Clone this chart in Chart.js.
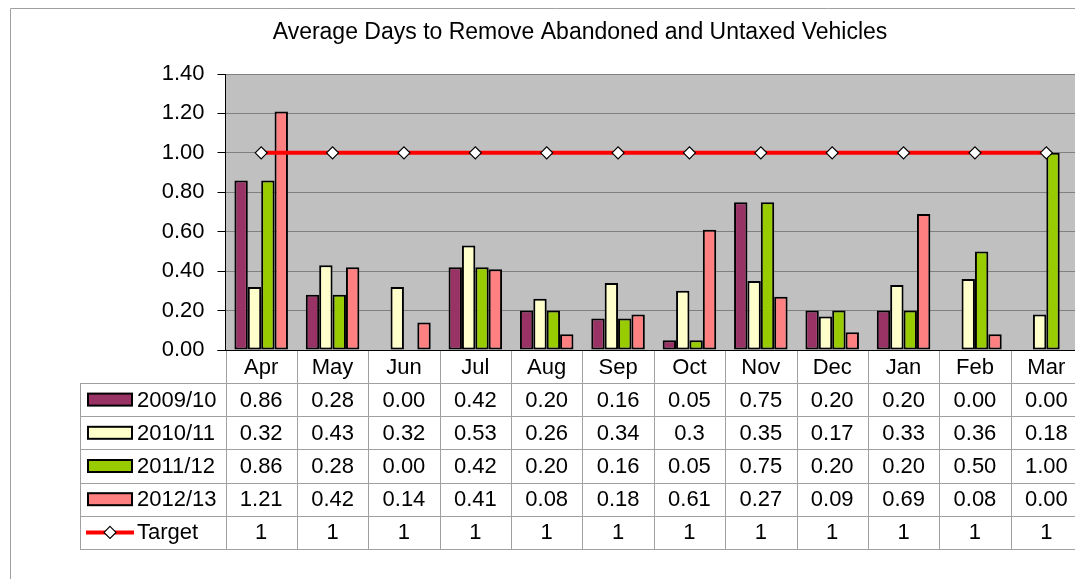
<!DOCTYPE html>
<html>
<head>
<meta charset="utf-8">
<script src="https://cdn.jsdelivr.net/npm/chart.js@4.4.1/dist/chart.umd.min.js"></script>
<style>
  body { margin: 0; overflow: hidden; background: #fff; }
  #wrap { position: relative; width: 1100px; height: 579px; }
</style>
</head>
<body>
<div id="wrap"><canvas id="grafica"></canvas></div>
<script>
const months = ['Apr', 'May', 'Jun', 'Jul', 'Aug', 'Sep', 'Oct', 'Nov', 'Dec', 'Jan', 'Feb', 'Mar'];
// valores tal como salen en la tabla de datos
const fy0910 = ['0.86', '0.28', '0.00', '0.42', '0.20', '0.16', '0.05', '0.75', '0.20', '0.20', '0.00', '0.00'];
const fy1011 = ['0.32', '0.43', '0.32', '0.53', '0.26', '0.34', '0.3', '0.35', '0.17', '0.33', '0.36', '0.18'];
const fy1112 = ['0.86', '0.28', '0.00', '0.42', '0.20', '0.16', '0.05', '0.75', '0.20', '0.20', '0.50', '1.00'];
const fy1213 = ['1.21', '0.42', '0.14', '0.41', '0.08', '0.18', '0.61', '0.27', '0.09', '0.69', '0.08', '0.00'];
const target = ['1', '1', '1', '1', '1', '1', '1', '1', '1', '1', '1', '1'];
const yTicks = ['0.00', '0.20', '0.40', '0.60', '0.80', '1.00', '1.20', '1.40'];

const fuente = "'Liberation Sans', Arial, sans-serif";
const tabla = [
    { name: '2009/10', vals: fy0910, color: '#993366' },
    { name: '2010/11', vals: fy1011, color: '#FFFFCC' },
    { name: '2011/12', vals: fy1112, color: '#99CC00' },
    { name: '2012/13', vals: fy1213, color: '#FF8080' },
    { name: 'Target', vals: target, color: '#FF0000', line: true }
];

function barra(fila) {
    return {
        type: 'bar',
        label: fila.name,
        data: fila.vals.map(Number),
        backgroundColor: fila.color,
        borderColor: '#000',
        borderWidth: 2,
        borderSkipped: false,
        categoryPercentage: 0.75,
        barPercentage: 1,
        order: 1
    };
}

const tablaPlugin = {
    id: 'tablaDatos',
    beforeDraw(chart) {
        const { ctx, chartArea: a } = chart;
        ctx.save();
        ctx.fillStyle = '#fff';
        ctx.fillRect(0, 0, chart.width, chart.height);
        ctx.fillStyle = '#C0C0C0';
        ctx.fillRect(a.left, a.top, a.right - a.left, a.bottom - a.top);
        ctx.restore();
    },
    afterDraw(chart) {
        const { ctx, chartArea: a } = chart;
        const xs = chart.scales.x;
        const colW = (a.right - a.left) / months.length;
        const rowTop = 383, rowH = 33.2, left = 80;
        const bottom = rowTop + rowH * tabla.length;
        ctx.save();

        // borde exterior
        ctx.strokeStyle = '#A0A0A0';
        ctx.lineWidth = 1;
        ctx.beginPath();
        ctx.moveTo(10.5, chart.height);
        ctx.lineTo(10.5, 8.5);
        ctx.lineTo(chart.width, 8.5);
        ctx.stroke();

        // titulo
        ctx.fillStyle = '#000';
        ctx.font = '23px ' + fuente;
        ctx.textAlign = 'center';
        ctx.textBaseline = 'middle';
        ctx.fillText('Average Days to Remove Abandoned and Untaxed Vehicles', 580, 33);

        // lineas de la tabla
        ctx.strokeStyle = '#A0A0A0';
        ctx.beginPath();
        for (let i = 0; i <= months.length; i++) {
            const x = Math.round(a.left + i * colW) + 0.5;
            ctx.moveTo(x, a.bottom);
            ctx.lineTo(x, bottom);
        }
        for (let k = 0; k <= tabla.length; k++) {
            const y = Math.round(rowTop + k * rowH) + 0.5;
            ctx.moveTo(left, y);
            ctx.lineTo(a.right, y);
        }
        ctx.moveTo(left + 0.5, rowTop);
        ctx.lineTo(left + 0.5, Math.round(bottom) + 0.5);
        ctx.stroke();

        // eje x
        ctx.strokeStyle = '#000';
        ctx.beginPath();
        ctx.moveTo(a.left - 8, a.bottom + 0.5);
        ctx.lineTo(a.right, a.bottom + 0.5);
        ctx.stroke();

        ctx.font = '22px ' + fuente;
        ctx.fillStyle = '#000';
        ctx.textAlign = 'center';
        months.forEach((m, i) => {
            ctx.fillText(m, xs.getPixelForValue(i), (a.bottom + rowTop) / 2 + 1);
        });

        tabla.forEach((fila, k) => {
            const cy = rowTop + k * rowH + rowH / 2;
            if (fila.line) {
                ctx.strokeStyle = fila.color;
                ctx.lineWidth = 4;
                ctx.beginPath();
                ctx.moveTo(86, cy);
                ctx.lineTo(134, cy);
                ctx.stroke();
                ctx.fillStyle = '#fff';
                ctx.strokeStyle = '#000';
                ctx.lineWidth = 1.2;
                ctx.beginPath();
                ctx.moveTo(110, cy - 6);
                ctx.lineTo(116, cy);
                ctx.lineTo(110, cy + 6);
                ctx.lineTo(104, cy);
                ctx.closePath();
                ctx.fill();
                ctx.stroke();
            } else {
                ctx.fillStyle = fila.color;
                ctx.fillRect(88, cy - 6, 44, 12);
                ctx.strokeStyle = '#000';
                ctx.lineWidth = 2;
                ctx.strokeRect(88, cy - 6, 44, 12);
            }
            ctx.fillStyle = '#000';
            ctx.textAlign = 'left';
            ctx.fillText(fila.name, 137, cy + 1);
            ctx.textAlign = 'center';
            fila.vals.forEach((v, i) => {
                ctx.fillText(v, xs.getPixelForValue(i), cy + 1);
            });
        });
        ctx.restore();
    }
};

const ctxG = document.getElementById('grafica').getContext('2d');

const grafica = new Chart(ctxG, {
    data: {
        labels: months,
        datasets: [
            barra(tabla[0]),
            barra(tabla[1]),
            barra(tabla[2]),
            barra(tabla[3]),
            {
                type: 'line',
                label: 'Target',
                data: target.map(Number),
                borderColor: '#FF0000',
                borderWidth: 4,
                pointStyle: 'rectRot',
                pointRadius: 6,
                pointBackgroundColor: '#fff',
                pointBorderColor: '#000',
                pointBorderWidth: 1.2,
                tension: 0,
                order: 0
            }
        ]
    },
    options: {
        responsive: true,
        maintainAspectRatio: false,
        animation: false,
        layout: { padding: { left: 10, top: 74, right: 18, bottom: 229 } },
        plugins: {
            legend: { display: false },
            tooltip: { enabled: false },
            title: { display: false }
        },
        scales: {
            x: { display: false, offset: true },
            y: {
                min: 0,
                max: 1.4,
                ticks: {
                    stepSize: 0.2,
                    callback: (v, i) => yTicks[i],
                    font: { family: fuente, size: 22 },
                    color: '#000',
                    padding: 13
                },
                grid: { color: '#808080', tickColor: '#000', tickLength: 8 },
                border: { color: '#000' },
                afterFit(s) { s.width = 215.5; }
            }
        }
    },
    plugins: [tablaPlugin]
});
</script>
</body>
</html>
